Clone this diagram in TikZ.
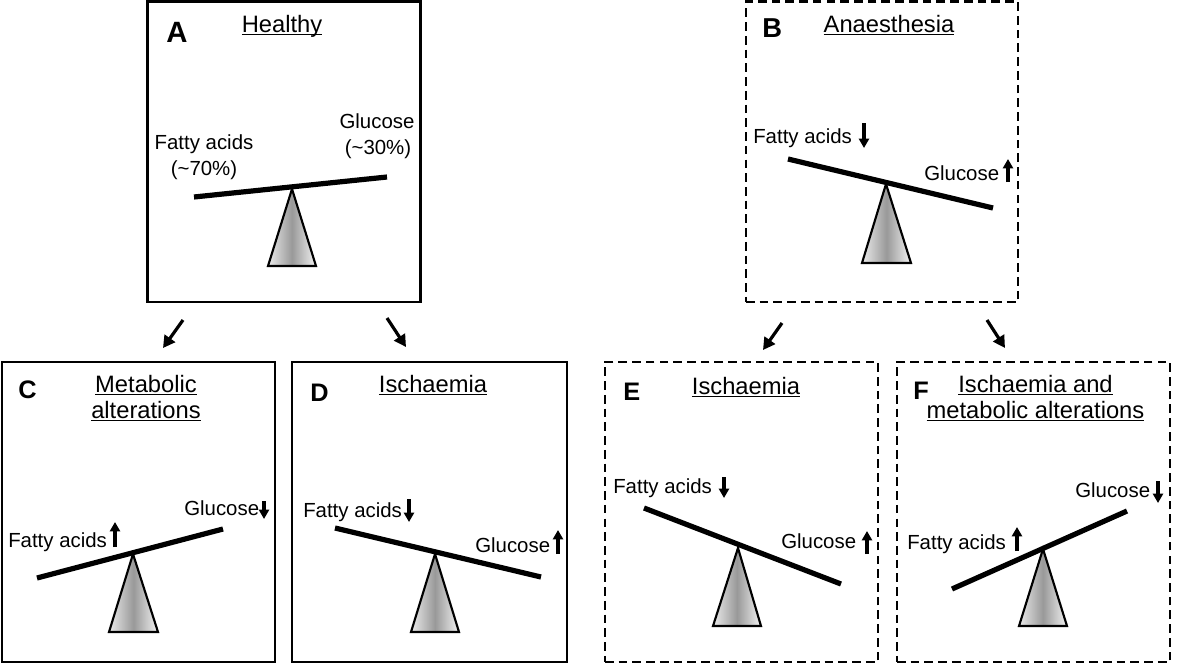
\documentclass[tikz,border=0pt]{standalone}
\usepackage{fontspec}
\setmainfont{Liberation Sans}
\usetikzlibrary{arrows.meta}
\newcommand{\ulin}[1]{\setbox0\hbox{#1}\rlap{\rule[-2.6pt]{\wd0}{1.3pt}}\box0}
\tikzset{
  panelsolid/.style={draw, line width=2.2pt, rectangle, inner sep=0pt},
  paneldashed/.style={panelsolid, dash pattern=on 6.5pt off 3.8pt},
  title/.style={inner sep=0pt, anchor=base, font=\fontsize{17.8pt}{20pt}\selectfont},
  lbl/.style={inner sep=0pt, anchor=base west, font=\fontsize{15.3pt}{18pt}\selectfont},
  lblc/.style={lbl, anchor=base},
  letter/.style={inner sep=0pt, anchor=base west, font=\fontsize{19pt}{21pt}\selectfont\bfseries},
  beam/.style={line width=3.9pt},
  fulcrum/.style={draw, line width=1.6pt, line join=miter, left color=black!8, right color=black!5, middle color=black!40},
  flow/.style={line width=2.4pt, -{Triangle[length=9pt,width=9.5pt]}},
  small/.style={line width=2.3pt, -{Triangle[length=7pt,width=7.5pt]}},
}
\begin{document}
\begin{tikzpicture}[x=0.75pt,y=-0.75pt]
\useasboundingbox (0,0) rectangle (1200,665);

% panels
\node[panelsolid, minimum width=273*0.75pt, minimum height=300.5*0.75pt] (A) at (284,151.75) {};
\node[paneldashed, minimum width=272*0.75pt, minimum height=300.5*0.75pt] (B) at (882,151.75) {};
\node[panelsolid, minimum width=273*0.75pt, minimum height=300*0.75pt] (C) at (138.5,512) {};
\node[panelsolid, minimum width=275*0.75pt, minimum height=300*0.75pt] (D) at (429.5,512) {};
\node[paneldashed, minimum width=273*0.75pt, minimum height=300*0.75pt] (E) at (741.5,512) {};
\node[paneldashed, minimum width=273*0.75pt, minimum height=300*0.75pt] (F) at (1033.5,512) {};

% letters
\node[letter, font=\fontsize{22pt}{24pt}\selectfont\bfseries] (Al) at (166,42) {A};
\node[letter, font=\fontsize{20.5pt}{22pt}\selectfont\bfseries] (Bl) at (762,37) {B};
\node[letter] (Cl) at (18,398) {C};
\node[letter] (Dl) at (310,401) {D};
\node[letter] (El) at (623,400) {E};
\node[letter] (Fl) at (913,399) {F};

% titles
\node[title] (At) at (282,32) {\ulin{Healthy}};
\node[title] (Bt) at (889,32) {\ulin{Anaesthesia}};
\node[title] (Ct1) at (146,392) {\ulin{Metabolic}};
\node[title] (Ct2) at (146,418) {\ulin{alterations}};
\node[title] (Dt) at (433,392) {\ulin{Ischaemia}};
\node[title] (Et) at (746,394) {\ulin{Ischaemia}};
\node[title] (Ft1) at (1035.5,392) {\ulin{Ischaemia and}};
\node[title] (Ft2) at (1035.5,418) {\ulin{metabolic alterations}};

% panel A
\filldraw[fulcrum] (292,189) -- (268,266) -- (316,266) -- cycle;
\draw[beam] (194,197) -- (387,177);
\node[lblc] (Afa) at (204,149) {Fatty acids};
\node[lblc] (Afa2) at (204,175) {(\textasciitilde70\%)};
\node[lblc] (Agl) at (377,128) {Glucose};
\node[lblc] (Agl2) at (378,154) {(\textasciitilde30\%)};

% panel B
\filldraw[fulcrum] (886,184) -- (862,263) -- (911,263) -- cycle;
\draw[beam] (788,159) -- (993,208);
\node[lbl] (Bfa) at (753,143) {Fatty acids};
\node[lbl] (Bgl) at (924,180) {Glucose};
\draw[small] (864,123) -- (864,148);
\draw[small] (1008,182) -- (1008,159);

% panel C
\filldraw[fulcrum] (133,554) -- (109,632) -- (158,632) -- cycle;
\draw[beam] (37,578) -- (223,529);
\node[lbl] (Cfa) at (8,547) {Fatty acids};
\node[lbl] (Cgl) at (184,515) {Glucose};
\draw[small] (115,547) -- (115,522);
\draw[small] (264,501) -- (264,519);

% panel D
\filldraw[fulcrum] (435,554) -- (411,632) -- (459,632) -- cycle;
\draw[beam] (335,528) -- (541,577);
\node[lbl] (Dfa) at (303,517) {Fatty acids};
\node[lbl] (Dgl) at (475,552) {Glucose};
\draw[small] (409,499) -- (409,522);
\draw[small] (558,554) -- (558,530);

% panel E
\filldraw[fulcrum] (738,548) -- (713,626) -- (761,626) -- cycle;
\draw[beam] (644,508) -- (841,584);
\node[lbl] (Efa) at (613,493) {Fatty acids};
\node[lbl] (Egl) at (781,548) {Glucose};
\draw[small] (724,477) -- (724,498);
\draw[small] (867,554) -- (867,531);

% panel F
\filldraw[fulcrum] (1043,549) -- (1019,626) -- (1067,626) -- cycle;
\draw[beam] (952,589) -- (1127,511);
\node[lbl] (Ffa) at (907,549) {Fatty acids};
\node[lbl] (Fgl) at (1075,497) {Glucose};
\draw[small] (1017,551) -- (1017,527);
\draw[small] (1158,481) -- (1158,503);

% flow arrows
\coordinate (a1s) at (183,320); \coordinate (a1e) at (163,348);
\coordinate (a2s) at (387,318); \coordinate (a2e) at (406,347);
\coordinate (a3s) at (782,323); \coordinate (a3e) at (763,350);
\coordinate (a4s) at (987,320); \coordinate (a4e) at (1005,348);
\draw[flow] (a1s) -- (a1e);
\draw[flow] (a2s) -- (a2e);
\draw[flow] (a3s) -- (a3e);
\draw[flow] (a4s) -- (a4e);
\end{tikzpicture}
\end{document}
